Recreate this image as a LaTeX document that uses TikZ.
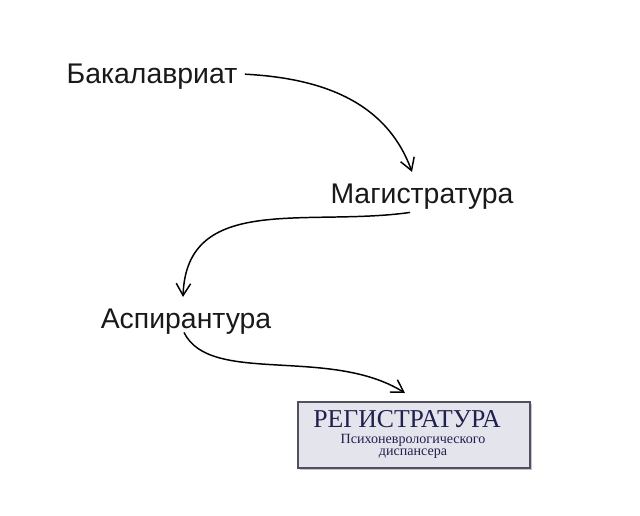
\documentclass[tikz,border=0pt]{standalone}
\usepackage{fontspec}
\setmainfont{Liberation Serif}
\setsansfont{Liberation Sans}
\usepackage{tikz}
\usetikzlibrary{arrows.meta,shadows,positioning}
\definecolor{regnavy}{RGB}{32,32,78}
\definecolor{regfill}{RGB}{228,228,236}
\definecolor{regline}{RGB}{80,80,96}

\begin{document}
\begin{tikzpicture}[x=0.025cm, y=0.025cm, >={Straight Barb[length=3mm,width=3.6mm]}, line width=1.05pt]
   \useasboundingbox (0,0) rectangle (640,-515);
   \begin{scope}[every node/.style={anchor=base,inner sep=2pt,text=black!90,font=\sffamily\fontsize{20.2}{23}\selectfont}]
    \node (bak) at (152,-83) {Бакалавриат};
    \node (mag) at (422,-203) {Магистратура};
    \node (asp) at (186,-328) {Аспирантура};
   \end{scope}
   \node (reg) [draw=regline, line width=1.4pt, fill=regfill, minimum width=5.8cm, minimum height=1.65cm,
      drop shadow={shadow xshift=1.5pt, shadow yshift=-1.5pt, fill=black!45}] at (414,-435) {};
   \begin{scope}[every node/.style={anchor=base,inner sep=0pt,text=regnavy}]
    \node (regt) at (407,-427) {\fontsize{18.3}{18}\selectfont РЕГИСТРАТУРА};
    \node (regp) at (413,-443) {\fontsize{10}{10}\selectfont Психоневрологического};
    \node (regd) at (413,-455) {\fontsize{10}{10}\selectfont диспансера};
   \end{scope}
   \begin{scope}[->]
    \draw ([xshift=0.1cm,yshift=0.05cm]bak.east) to[out=-3,in=110] ([xshift=-0.25cm,yshift=0.2cm]mag.north);
    \draw ([xshift=-0.3cm]mag.south) to[out=188,in=88,looseness=1.1] ([xshift=-0.075cm,yshift=0.2cm]asp.north);
    \draw ([xshift=-0.05cm,yshift=0.125cm]asp.south) to[out=-64,in=148,out looseness=0.66,in looseness=0.99] ([xshift=-0.225cm,yshift=0.2cm]reg.north);
   \end{scope}
\end{tikzpicture}
\end{document}
